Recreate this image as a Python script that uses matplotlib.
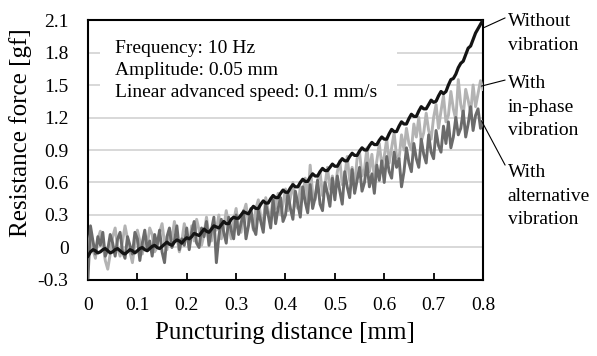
import matplotlib
matplotlib.use("Agg")
import matplotlib.pyplot as plt
import numpy as np
from matplotlib.patches import Rectangle

plt.rcParams['font.family'] = ['Liberation Serif', 'DejaVu Serif']

# puncturing distance [mm], sampled every 0.005 mm
distance = np.round(np.arange(161) * 0.005, 3)

# resistance force [gf] without vibration
without_vib = [
    -0.08, -0.04, -0.02, -0.03, -0.05, -0.04, -0.02, -0.01, -0.03, -0.05,
    -0.04, -0.02, -0.01, -0.03, -0.05, -0.06, -0.04, -0.02, -0.03, -0.05,
    -0.03, -0.01, 0.00, -0.02, -0.03, -0.01, 0.01, 0.02, 0.00, -0.01,
    0.01, 0.03, 0.05, 0.03, 0.02, 0.05, 0.07, 0.06, 0.04, 0.07,
    0.09, 0.08, 0.10, 0.13, 0.12, 0.11, 0.14, 0.17, 0.15, 0.14,
    0.17, 0.20, 0.19, 0.18, 0.21, 0.24, 0.22, 0.22, 0.26, 0.28,
    0.27, 0.27, 0.30, 0.33, 0.32, 0.31, 0.35, 0.38, 0.36, 0.36,
    0.40, 0.43, 0.41, 0.41, 0.45, 0.48, 0.46, 0.46, 0.50, 0.53,
    0.51, 0.51, 0.55, 0.58, 0.56, 0.56, 0.60, 0.63, 0.61, 0.61,
    0.65, 0.68, 0.66, 0.66, 0.70, 0.73, 0.71, 0.71, 0.74, 0.77,
    0.75, 0.75, 0.79, 0.82, 0.80, 0.80, 0.84, 0.87, 0.85, 0.85,
    0.89, 0.92, 0.90, 0.90, 0.94, 0.97, 0.95, 0.95, 0.99, 1.02,
    1.00, 1.00, 1.05, 1.09, 1.07, 1.07, 1.12, 1.16, 1.14, 1.14,
    1.19, 1.23, 1.21, 1.21, 1.26, 1.30, 1.28, 1.28, 1.32, 1.36,
    1.34, 1.35, 1.40, 1.44, 1.42, 1.44, 1.50, 1.55, 1.56, 1.60,
    1.66, 1.70, 1.72, 1.78, 1.84, 1.86, 1.92, 1.98, 2.02, 2.06,
    2.10,
]

# with in-phase vibration
in_phase = [
    0.02, 0.12, -0.02, -0.10, 0.08, 0.15, 0.04, -0.12, -0.20, -0.06,
    0.10, 0.18, 0.00, -0.08, 0.06, 0.20, 0.08, -0.04, -0.14, 0.04,
    0.16, 0.06, -0.06, 0.10, 0.02, 0.18, 0.12, -0.04, 0.00, 0.14,
    0.22, 0.04, -0.02, 0.16, 0.08, 0.24, 0.10, -0.04, 0.06, 0.22,
    0.12, 0.00, 0.20, 0.06, 0.26, 0.16, 0.02, 0.12, 0.28, 0.10,
    0.06, 0.24, 0.16, 0.30, 0.08, 0.18, 0.34, 0.20, 0.08, 0.24,
    0.36, 0.18, 0.14, 0.32, 0.40, 0.22, 0.30, 0.16, 0.36, 0.44,
    0.28, 0.22, 0.46, 0.34, 0.26, 0.48, 0.36, 0.50, 0.30, 0.40,
    0.54, 0.34, 0.46, 0.60, 0.40, 0.36, 0.56, 0.48, 0.64, 0.42,
    0.76, 0.50, 0.44, 0.62, 0.70, 0.48, 0.58, 0.74, 0.54, 0.66,
    0.50, 0.70, 0.80, 0.58, 0.66, 0.84, 0.62, 0.74, 0.56, 0.82,
    0.88, 0.66, 0.72, 0.92, 0.70, 0.86, 0.64, 0.80, 0.96, 0.76,
    0.84, 1.00, 0.78, 0.92, 1.06, 0.84, 0.82, 1.04, 0.90, 1.10,
    0.96, 0.90, 1.14, 1.02, 1.20, 0.98, 1.06, 1.24, 1.08, 1.00,
    1.20, 1.32, 1.10, 1.26, 1.40, 1.16, 1.22, 1.44, 1.28, 1.18,
    1.55, 1.32, 1.22, 1.46, 1.36, 1.24, 1.50, 1.30, 1.42, 1.54,
    1.46,
]

# with alternative vibration
alternative = [
    -0.28, 0.20, 0.06, -0.06, 0.10, 0.02, 0.14, -0.08, -0.02, 0.12,
    0.04, -0.08, 0.08, 0.14, -0.04, -0.10, 0.10, 0.02, -0.06, 0.14,
    0.08, -0.12, 0.04, 0.16, -0.02, 0.06, -0.08, 0.12, 0.02, 0.16,
    -0.04, -0.14, 0.10, 0.18, 0.00, 0.06, 0.20, -0.02, 0.08, 0.02,
    0.18, -0.02, 0.14, 0.24, 0.04, 0.00, 0.18, 0.10, 0.24, 0.02,
    0.16, 0.28, -0.14, 0.10, 0.26, 0.14, 0.04, 0.28, 0.16, 0.08,
    0.30, 0.12, 0.22, 0.34, 0.08, 0.20, 0.36, 0.18, 0.12, 0.34,
    0.24, 0.14, 0.40, 0.30, 0.18, 0.44, 0.22, 0.36, 0.46, 0.24,
    0.30, 0.50, 0.36, 0.26, 0.52, 0.40, 0.28, 0.56, 0.42, 0.32,
    0.58, 0.36, 0.46, 0.62, 0.40, 0.34, 0.60, 0.50, 0.38, 0.64,
    0.44, 0.66, 0.52, 0.40, 0.70, 0.56, 0.46, 0.72, 0.50, 0.62,
    0.74, 0.52, 0.60, 0.78, 0.56, 0.68, 0.50, 0.76, 0.62, 0.80,
    0.60, 0.84, 0.70, 0.64, 0.88, 0.74, 0.82, 0.56, 0.70, 0.92,
    0.78, 0.70, 0.96, 0.82, 0.74, 1.00, 0.86, 0.78, 1.04, 0.88,
    0.82, 1.08, 0.94, 0.88, 1.12, 0.96, 1.16, 0.92, 1.02, 1.20,
    1.04, 1.10, 1.26, 1.02, 1.14, 1.30, 1.08, 1.22, 1.28, 1.10,
    1.16,
]

x_ticks = [0, 0.1, 0.2, 0.3, 0.4, 0.5, 0.6, 0.7, 0.8]
x_tick_labels = ['0', '0.1', '0.2', '0.3', '0.4', '0.5', '0.6', '0.7', '0.8']
y_ticks = [-0.3, 0, 0.3, 0.6, 0.9, 1.2, 1.5, 1.8, 2.1]
y_tick_labels = ['-0.3', '0', '0.3', '0.6', '0.9', '1.2', '1.5', '1.8', '2.1']

conditions = ['Frequency: 10 Hz', 'Amplitude: 0.05 mm', 'Linear advanced speed: 0.1 mm/s']
label_without = ['Without', 'vibration']
label_in_phase = ['With', 'in-phase', 'vibration']
label_alternative = ['With', 'alternative', 'vibration']

fig = plt.figure(figsize=(5.97, 3.56), dpi=100)
ax = fig.add_axes([0.1474, 0.2135, 0.6616, 0.7303])

ax.plot(distance, in_phase, color='#b3b3b3', lw=2.1, zorder=3)
ax.plot(distance, alternative, color='#6b6b6b', lw=2.1, zorder=4)
ax.plot(distance, without_vib, color='#141414', lw=2.3, zorder=5)

ax.set_xlim(0, 0.8)
ax.set_ylim(-0.3, 2.1)
ax.set_xticks(x_ticks)
ax.set_xticklabels(x_tick_labels)
ax.set_yticks(y_ticks)
ax.set_yticklabels(y_tick_labels)
ax.tick_params(axis='x', direction='in', length=5, width=1.3, pad=12, labelsize=14, top=False)
ax.tick_params(axis='y', length=0, pad=14, labelsize=14)
ax.yaxis.grid(True, color='#d6d6d6', lw=1.3, zorder=0)
ax.set_axisbelow(True)
for sp in ax.spines.values():
    sp.set_linewidth(1.5)
    sp.set_color('black')

ax.set_xlabel('Puncturing distance [mm]', fontsize=18)
ax.set_ylabel('Resistance force [gf]', fontsize=18)
ax.xaxis.set_label_coords(0.499, -0.16)
ax.yaxis.set_label_coords(-0.142, 0.567)

# white patch behind the test conditions
ax.add_patch(Rectangle((0.03, 0.67), 0.752, 0.25, transform=ax.transAxes,
                       facecolor='white', edgecolor='none', zorder=1))
for i, txt in enumerate(conditions):
    ax.text(0.068, 0.873 - i * 0.085, txt, transform=ax.transAxes,
            fontsize=14, va='baseline', ha='left', zorder=2)

# series labels on the right with leader lines
for lines, y0 in [(label_without, 0.977), (label_in_phase, 0.738), (label_alternative, 0.396)]:
    for i, txt in enumerate(lines):
        ax.text(1.063, y0 - i * 0.091, txt, transform=ax.transAxes,
                fontsize=14, va='baseline', ha='left', clip_on=False)

leaders = [((0.802, 2.03), (1.056, 1.008)),
           ((0.797, 1.49), (1.056, 0.769)),
           ((0.797, 1.17), (1.056, 0.442))]
for xy, xytext in leaders:
    ax.annotate('', xy=xy, xycoords='data', xytext=xytext, textcoords='axes fraction',
                arrowprops=dict(arrowstyle='-', lw=0.8, color='black',
                                shrinkA=0, shrinkB=0),
                annotation_clip=False, zorder=6)

fig.savefig('out.png', dpi=100)
